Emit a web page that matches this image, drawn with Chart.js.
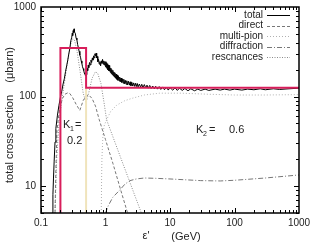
<!DOCTYPE html>
<html><head><meta charset="utf-8">
<script src="https://cdn.jsdelivr.net/npm/chart.js@4"></script>
<style>html,body{margin:0;padding:0;background:#fff}#w{width:312px;height:246px;position:relative}</style>
</head><body><div id="w"><canvas id="c"></canvas></div>
<script>
const xTickLabels = ['0.1','1','10','100','1000'];
const yTickLabels = ['10','100','1000'];
const seriesNames = ['total','direct','multi-pion','diffraction','rescnances'];

const totalX = [0.150,0.153,0.156,0.160,0.165,0.170,0.180,0.190,0.200,0.210,0.220,0.230,0.240,0.250,0.260,0.270,0.280,0.290,0.300,0.305,0.310,0.315,0.320,0.325,0.330,0.340,0.350,0.360,0.370,0.380,0.390,0.400,0.410,0.420,0.430,0.440,0.450,0.460,0.470,0.480,0.490,0.500,0.510,0.520,0.530,0.540,0.550,0.565,0.580,0.595,0.610,0.625,0.640,0.655,0.670,0.685,0.700,0.715,0.730,0.745,0.760,0.780,0.800,0.820,0.840,0.860,0.880,0.900,0.920,0.940,0.960,0.980,
  1.00,1.015,1.03,1.045,1.06,1.075,1.09,1.105,1.12,1.135,1.15,1.17,1.19,1.21,1.23,1.25,1.275,1.30,1.325,1.35,1.375,1.40,1.43,1.46,1.49,1.52,1.55,1.58,1.62,1.66,1.70,1.74,1.78,1.82,1.87,1.92,1.97,2.02,2.08,2.14,2.20,2.27,2.34,2.41,2.48,2.56,2.64,2.72,2.81,2.90,3.00,
  3.1,3.2,3.35,3.5,3.65,3.8,4.0,4.2,4.4,4.6,4.85,5.1,5.4,5.7,6.0,6.4,6.8,7.2,7.7,8.2,8.8,9.4,10,11,12,13,14,15.5,17,19,21,24,27,30,35,40,50,60,70,85,100,130,160,200,250,300,400,500,700,1000];
const totalY = [5,8,12,19,31,44,62,80,98,115,138,158,190,220,255,300,345,420,460,510,480,545,520,570,525,510,450,430,380,350,320,290,275,250,235,215,205,195,182,178,170,185,175,205,195,225,210,240,225,255,240,270,255,285,270,300,285,305,270,280,245,260,230,245,220,250,235,260,230,250,225,245,
  215,245,210,238,205,232,200,225,195,222,192,215,186,208,180,200,175,196,170,188,165,184,160,178,156,174,152,169,149,165,146,161,144,158,141,156,139,152,137,150,135,148,134,146,132,144,131,142,130,141,129,
  140,128,138,127,137,126,136,125,134,124,133,123,131,122,130,121,129,120,128,119,127,118,126,118,125,117,124,117,123,116,122,116,121,117,121,117,121,118,121,118,121,118,121,119,122,119,122,120,122,124];

const directX = [0.165,0.170,0.177,0.190,0.200,0.215,0.235,0.260,0.280,0.310,0.350,0.400,0.450,0.500,0.550,0.620,0.700,0.800,1.00,1.30,1.70,2.20];
const directY = [5,15,42,65,78,95,106,110,108,97,82,70,90,102,104,95,78,55,33,18,9.3,5];

const multiX = [0.86,0.87,0.88,0.90,0.92,0.96,1.04,1.20,1.49,2.00,2.65,4.00,6.90,15,40,100,300,1000];
const multiY = [5,12,20,30,40,48,55,68,80,90,96,104,109,109,106,104,104,105];

const diffX = [1.00,1.10,1.30,1.66,2.00,2.40,3.00,4.00,6.00,10,30,60,100,300,1000];
const diffY = [5,6,7.5,9,10.5,11.5,12,12.3,12.2,12,11.5,11.4,11.6,12.3,13.3];

const resX = [0.165,0.175,0.190,0.210,0.230,0.250,0.270,0.290,0.310,0.330,0.360,0.400,0.450,0.500,0.550,0.620,0.700,0.760,0.850,0.950,1.04,1.50,2.00,2.80,3.60];
const resY = [5,20,50,90,140,210,300,390,440,430,330,200,110,85,110,160,190,180,140,85,55,27,15.5,8.1,5];

const k1BoxX = [0.2,0.2,0.5,0.5,1000];
const k1BoxY = [5,348,348,125,125];
const k2LineX = [0.5,0.5];
const k2LineY = [5,125];

const pts = (xs, ys) => xs.map((x, i) => ({x, y: ys[i]}));
const styles = [
  {color:'#000000', dash:[], width:1},
  {color:'#777777', dash:[3,2], width:1},
  {color:'#b0b0b0', dash:[1,2], width:1},
  {color:'#777777', dash:[5,2,1,2], width:1},
  {color:'#8a8a8a', dash:[1,1.5], width:1}
];
const curveData = [pts(totalX,totalY), pts(directX,directY), pts(multiX,multiY), pts(diffX,diffY), pts(resX,resY)];

const datasets = [
  {label:'K1', data: pts(k1BoxX,k1BoxY), borderColor:'#d81e5b', borderWidth:2, order:0},
  {label:'K2', data: pts(k2LineX,k2LineY), borderColor:'#f0e4bc', borderWidth:2, order:1}
];
curveData.forEach((d, i) => datasets.push({
  label: seriesNames[i], data: d, borderColor: styles[i].color, borderDash: styles[i].dash,
  borderWidth: styles[i].width, order: 2 + i
}));

const FONT = '"Liberation Sans", Arial, sans-serif';
const framePlugin = {
  id: 'frame',
  afterDraw(chart) {
    const ctx = chart.ctx, ca = chart.chartArea;
    const xs = chart.scales.x, ys = chart.scales.y;
    ctx.save();
    ctx.strokeStyle = '#000'; ctx.lineWidth = 1.5; ctx.setLineDash([]);
    ctx.strokeRect(ca.left, ca.top, ca.right - ca.left, ca.bottom - ca.top);
    ctx.lineWidth = 1;
    for (let e = -1; e < 3; e++) {
      for (let m = 1; m <= 9; m++) {
        const v = m * Math.pow(10, e);
        const px = Math.round(xs.getPixelForValue(v)) + 0.5;
        const len = m === 1 ? 5 : 3;
        ctx.beginPath();
        ctx.moveTo(px, ca.bottom); ctx.lineTo(px, ca.bottom - len);
        ctx.moveTo(px, ca.top); ctx.lineTo(px, ca.top + len);
        ctx.stroke();
      }
    }
    for (let e = 0; e < 3; e++) {
      for (let m = 1; m <= 9; m++) {
        const v = m * Math.pow(10, e);
        if (v < 5 || v > 1000) continue;
        const py = Math.round(ys.getPixelForValue(v)) + 0.5;
        const len = m === 1 ? 5 : 3;
        ctx.beginPath();
        ctx.moveTo(ca.left, py); ctx.lineTo(ca.left + len, py);
        ctx.moveTo(ca.right, py); ctx.lineTo(ca.right - len, py);
        ctx.stroke();
      }
    }
    ctx.fillStyle = '#222';
    ctx.font = '10px ' + FONT;
    ctx.textAlign = 'center'; ctx.textBaseline = 'middle';
    xTickLabels.forEach(t => ctx.fillText(t, xs.getPixelForValue(parseFloat(t)), 223));
    ctx.textAlign = 'right';
    yTickLabels.forEach(t => ctx.fillText(t, ca.left - 5, ys.getPixelForValue(parseFloat(t))));
    ctx.font = '11px ' + FONT;
    ctx.textAlign = 'center';
    ctx.save();
    ctx.translate(10, 115); ctx.rotate(-Math.PI / 2);
    ctx.fillText('total cross section    (\u03bcbarn)', 0, 0);
    ctx.restore();
    ctx.fillText('\u03b5\'', 146, 236);
    ctx.fillText('(GeV)', 186, 237);
    ctx.textAlign = 'left';
    ctx.fillText('K', 63, 125);
    ctx.font = '7px ' + FONT; ctx.fillText('1', 70, 129);
    ctx.font = '11px ' + FONT; ctx.fillText('=', 75, 125);
    ctx.fillText('0.2', 67, 141);
    ctx.fillText('K', 196, 130);
    ctx.font = '7px ' + FONT; ctx.fillText('2', 203, 134);
    ctx.font = '11px ' + FONT; ctx.fillText('=', 209, 130);
    ctx.fillText('0.6', 229, 130);
    ctx.font = '10px ' + FONT;
    const rows = [15, 25.5, 36, 46.5, 57];
    seriesNames.forEach((n, i) => {
      ctx.textAlign = 'right'; ctx.fillStyle = '#222';
      ctx.fillText(n, 263, rows[i]);
      ctx.strokeStyle = styles[i].color; ctx.setLineDash(styles[i].dash);
      ctx.lineWidth = 1;
      ctx.beginPath(); ctx.moveTo(267, Math.round(rows[i]) + 0.5); ctx.lineTo(290, Math.round(rows[i]) + 0.5); ctx.stroke();
    });
    ctx.restore();
  }
};

new Chart(document.getElementById('c'), {
  type: 'line',
  data: { datasets },
  options: {
    responsive: true, maintainAspectRatio: false, animation: false,
    layout: { padding: { left: 41, right: 13, top: 7, bottom: 33 } },
    elements: { point: { radius: 0 }, line: { tension: 0 } },
    plugins: { legend: { display: false }, tooltip: { enabled: false } },
    scales: {
      x: { type: 'logarithmic', min: 0.1, max: 1000, display: false },
      y: { type: 'logarithmic', min: 5, max: 1000, display: false }
    }
  },
  plugins: [framePlugin]
});
</script></body></html>
